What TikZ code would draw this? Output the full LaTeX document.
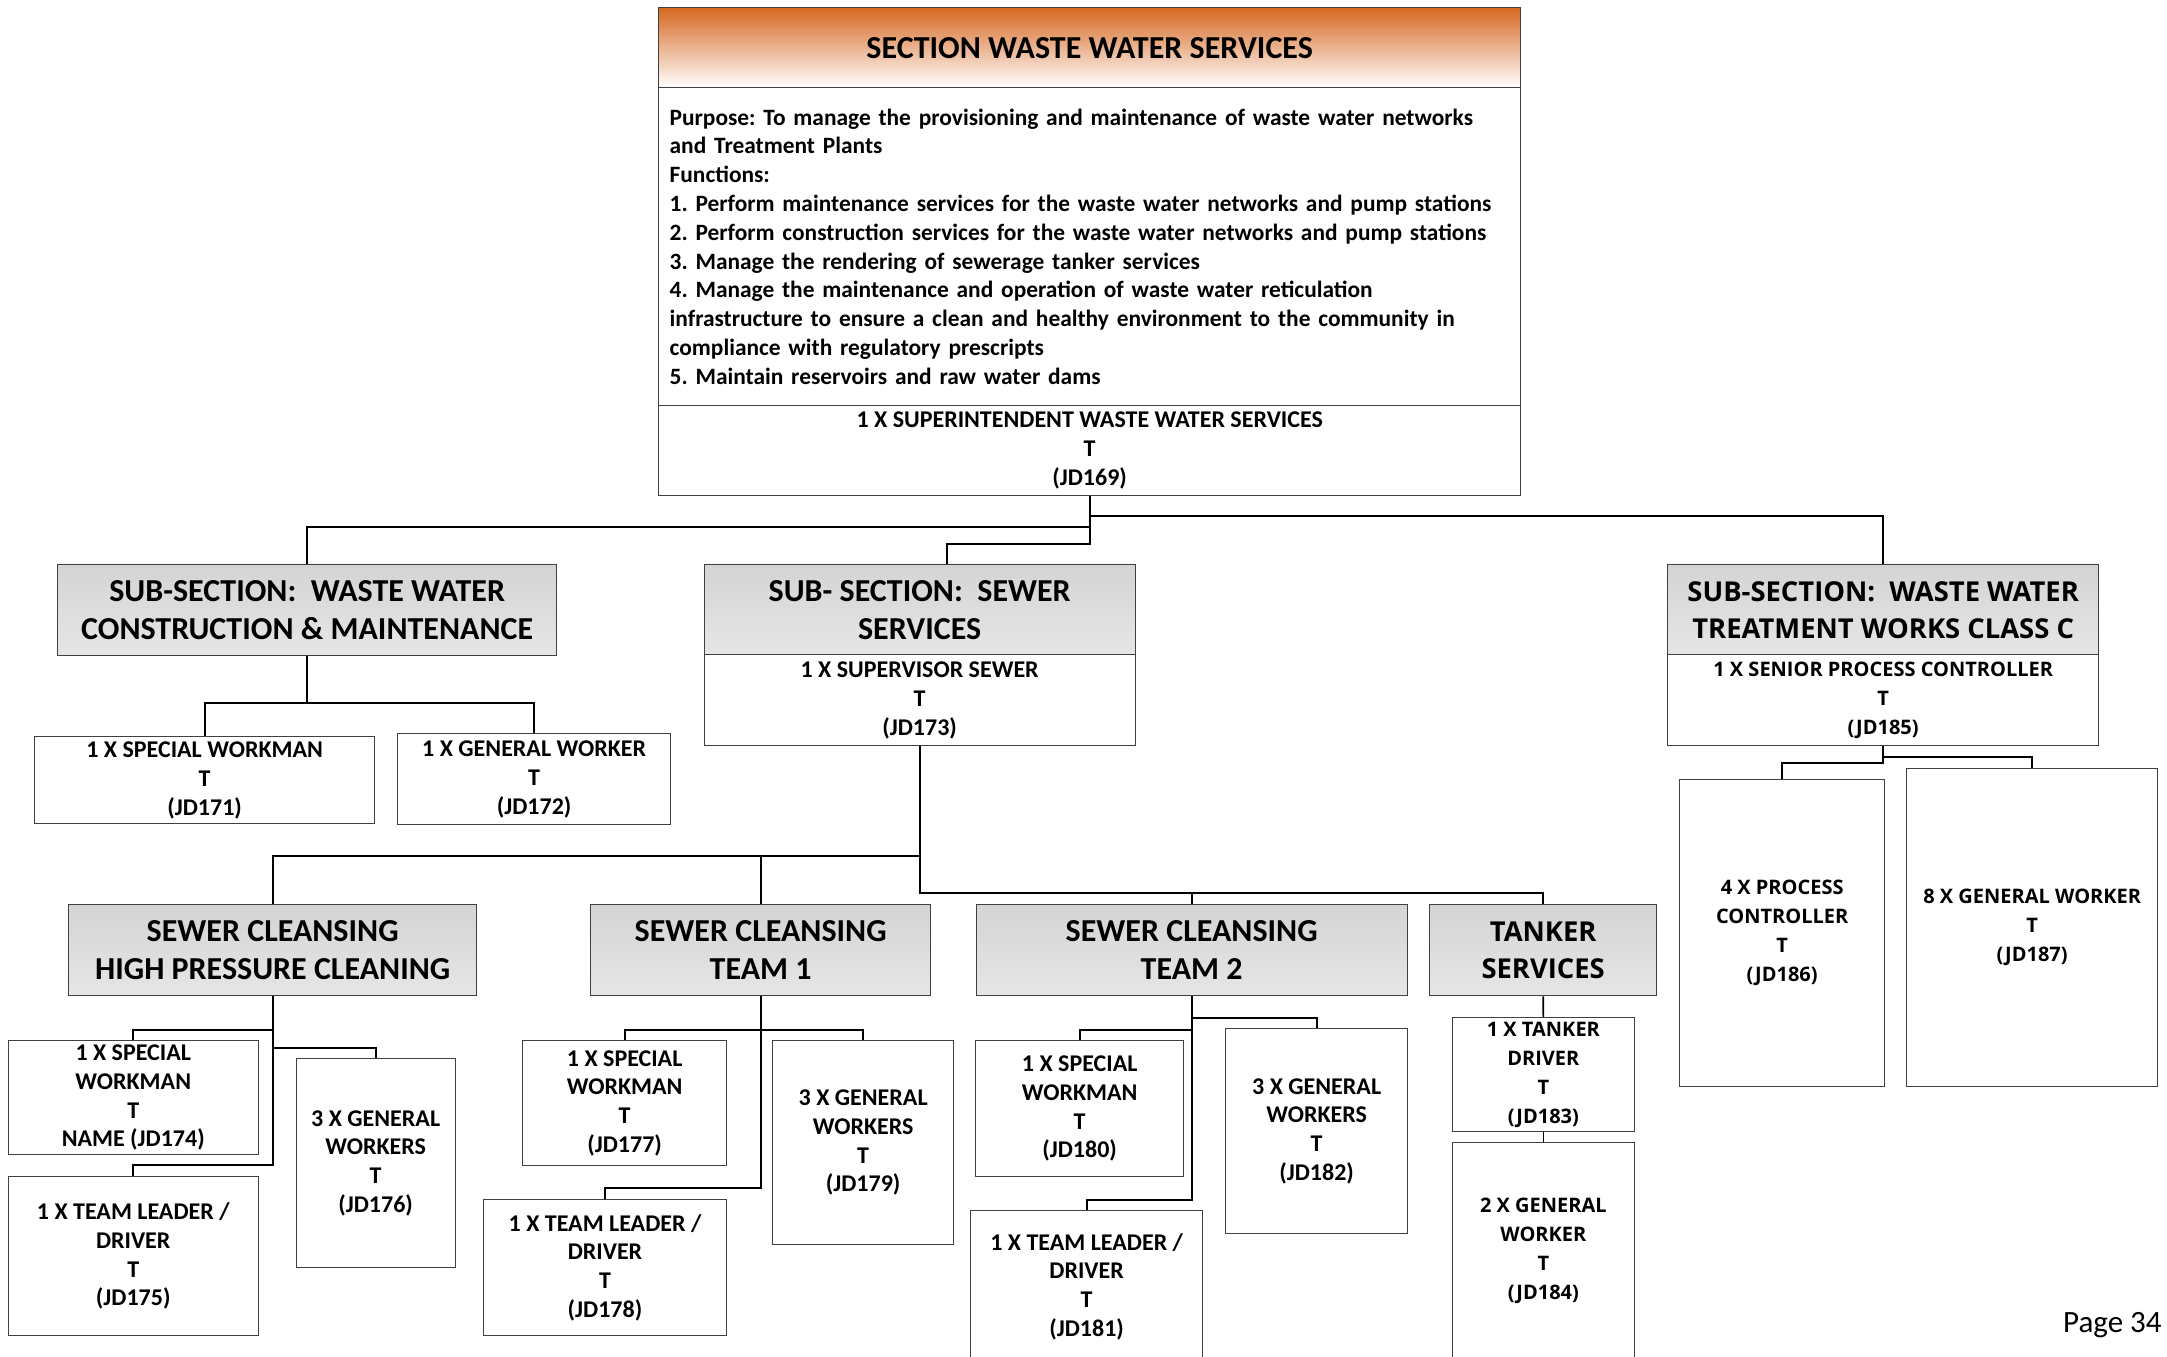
\documentclass[tikz,border=0pt]{standalone}
\usepackage{fontspec}
\setmainfont{Carlito}
\newfontfamily\wideface{Open Sans}
\usetikzlibrary{calc}
\definecolor{boxline}{RGB}{64,64,64}
\definecolor{headgray}{RGB}{212,212,212}
\definecolor{headgraylt}{RGB}{230,230,230}
\definecolor{titleorange}{RGB}{214,104,34}

\begin{document}
\begin{tikzpicture}[x=0.5pt, y=-0.5pt,
    box/.style={draw=boxline, line width=0.65pt, fill=white, align=center, inner sep=0pt, anchor=north west},
    headbox/.style={box, top color=headgray, bottom color=headgraylt, minimum height=45.5pt, font=\fontsize{16}{19}\selectfont\bfseries},
    jobbox/.style={box, font=\fontsize{12}{14.4}\selectfont\bfseries},
    widehead/.style={box, top color=headgray, bottom color=headgraylt, minimum height=45.5pt, font=\wideface\fontsize{13.7}{18.7}\selectfont\bfseries},
    widejob/.style={box, font=\wideface\fontsize{10}{14.5}\selectfont\bfseries},
    conn/.style={line width=0.85pt, black}]
    \useasboundingbox (0,0) rectangle (2167,1356);

    % section
    \node[box, minimum width=431pt, minimum height=40pt, top color=titleorange, middle color=titleorange!35, bottom color=white,
        font=\fontsize{16}{19}\selectfont\bfseries] (title) at (658,7) {SECTION WASTE WATER SERVICES};
    \node[box, minimum width=431pt, minimum height=159pt, text width=420pt, align=left,
        font=\fontsize{11.7}{14.4}\selectfont\bfseries\frenchspacing] (purpose) at (658,87)
        {Purpose: To manage the provisioning and maintenance of waste water networks\\
         and Treatment Plants\\
         Functions:\\
         1. Perform maintenance services for the waste water networks and pump stations\\
         2. Perform construction services for the waste water networks and pump stations\\
         3. Manage the rendering of sewerage tanker services\\
         4. Manage the maintenance and operation of waste water reticulation\\
         infrastructure to ensure a clean and healthy environment to the community in\\
         compliance with regulatory prescripts\\
         5. Maintain reservoirs and raw water dams};
    \node[jobbox, minimum width=431pt, minimum height=45pt] (super) at (658,405) {1 X SUPERINTENDENT WASTE WATER SERVICES\\T\\(JD169)};

    % sub-sections
    \node[headbox, minimum width=249.5pt] (wwcm) at (57,564) {SUB-SECTION:\ \ WASTE WATER\\CONSTRUCTION \& MAINTENANCE};
    \node[jobbox, minimum width=170pt, minimum height=43.5pt] (sw171) at (34,736) {1 X SPECIAL WORKMAN\\T\\(JD171)};
    \node[jobbox, minimum width=136.5pt, minimum height=45.5pt] (gw172) at (397,733) {1 X GENERAL WORKER\\T\\(JD172)};

    \node[headbox, minimum width=215.5pt] (sewerhd) at (703.5,564) {SUB- SECTION:\ \ SEWER\\SERVICES};
    \node[jobbox, minimum width=215.5pt, minimum height=45.5pt] (sewerjob) at (703.5,654) {1 X SUPERVISOR SEWER\\T\\(JD173)};

    \node[widehead, minimum width=215.5pt] (treathd) at (1667,564) {SUB-SECTION:\ \ WASTE WATER\\TREATMENT WORKS CLASS C};
    \node[widejob, minimum width=215.5pt, minimum height=45.5pt] (treatjob) at (1667,654) {1 X SENIOR PROCESS CONTROLLER\\T\\(JD185)};
    \node[widejob, minimum width=102.5pt, minimum height=153.5pt] (pc186) at (1679,779) {4 X PROCESS\\CONTROLLER\\T\\(JD186)};
    \node[widejob, minimum width=125.5pt, minimum height=159pt] (gw187) at (1906,768) {8 X GENERAL WORKER\\T\\(JD187)};

    % sewer teams
    \node[headbox, minimum width=204pt] (hp) at (68,904) {SEWER CLEANSING\\HIGH PRESSURE CLEANING};
    \node[headbox, minimum width=170pt] (team1) at (590,904) {SEWER CLEANSING\\TEAM 1};
    \node[headbox, minimum width=215.5pt] (team2) at (975.5,904) {SEWER CLEANSING\\TEAM 2};
    \node[widehead, minimum width=113.5pt] (tanker) at (1429,904) {TANKER\\SERVICES};

    \node[jobbox, minimum width=125pt, minimum height=57pt] (sw174) at (7.6,1040) {1 X SPECIAL\\WORKMAN\\T\\NAME (JD174)};
    \node[jobbox, minimum width=125pt, minimum height=79.5pt] (tl175) at (7.6,1176) {1 X TEAM LEADER /\\DRIVER\\T\\(JD175)};
    \node[jobbox, minimum width=79.5pt, minimum height=104.5pt] (gw176) at (295.5,1058) {3 X GENERAL\\WORKERS\\T\\(JD176)};

    \node[jobbox, minimum width=102pt, minimum height=62.5pt] (sw177) at (522,1040) {1 X SPECIAL\\WORKMAN\\T\\(JD177)};
    \node[jobbox, minimum width=121.75pt, minimum height=68pt] (tl178) at (482.6,1199) {1 X TEAM LEADER /\\DRIVER\\T\\(JD178)};
    \node[jobbox, minimum width=90.5pt, minimum height=102pt] (gw179) at (772,1040) {3 X GENERAL\\WORKERS\\T\\(JD179)};

    \node[jobbox, minimum width=104pt, minimum height=68pt] (sw180) at (975,1040) {1 X SPECIAL\\WORKMAN\\T\\(JD180)};
    \node[jobbox, minimum width=116pt, minimum height=76pt] (tl181) at (970,1210) {1 X TEAM LEADER /\\DRIVER\\T\\(JD181)};
    \node[jobbox, minimum width=91pt, minimum height=102.5pt] (gw182) at (1225,1028) {3 X GENERAL\\WORKERS\\T\\(JD182)};

    \node[widejob, minimum width=91pt, minimum height=57pt] (td183) at (1451.7,1017) {1 X TANKER\\DRIVER\\T\\(JD183)};
    \node[widejob, minimum width=91pt, minimum height=108pt] (gw184) at (1451.7,1142) {2 X GENERAL\\WORKER\\T\\(JD184)};

    \node[font=\fontsize{15.5}{18}\selectfont, anchor=east, inner sep=0pt] (pagenum) at (2162,1325) {Page 34};

    % connectors
    \coordinate (busR) at ($(super.south)+(0,20)$);
    \coordinate (busL) at ($(super.south)+(0,31)$);
    \coordinate (busM) at ($(super.south)+(0,48)$);
    \draw[conn] (super.south) -- (busM) -| ([xshift=13.5pt]sewerhd.north);
    \draw[conn] (busL) -| (wwcm.north);
    \draw[conn] (busR) -| (treathd.north);

    \coordinate (wwbus) at ($(wwcm.south)+(0,47)$);
    \draw[conn] (wwcm.south) -- (wwbus) -| (sw171.north);
    \draw[conn] (wwbus) -| (gw172.north);

    \coordinate (trbusL) at ($(treatjob.south)+(0,17)$);
    \coordinate (trbusR) at ($(treatjob.south)+(0,11)$);
    \draw[conn] (treatjob.south) -- (trbusL) -| (pc186.north);
    \draw[conn] (trbusR) -| (gw187.north);

    \coordinate (swbusL) at ($(sewerjob.south)+(0,110)$);
    \coordinate (swbusR) at ($(sewerjob.south)+(0,147)$);
    \draw[conn] (sewerjob.south) -- (swbusR) -| (tanker.north);
    \draw[conn] (swbusL) -| (hp.north);
    \draw[conn] (swbusL) -| (team1.north);
    \draw[conn] (swbusR) -| (team2.north);

    \coordinate (hpbusA) at ($(hp.south)+(0,34)$);
    \coordinate (hpbusB) at ($(hp.south)+(0,52)$);
    \coordinate (hpbusC) at ($(hp.south)+(0,169)$);
    \draw[conn] (hp.south) -- (hpbusC) -| (tl175.north);
    \draw[conn] (hpbusA) -| (sw174.north);
    \draw[conn] (hpbusB) -| (gw176.north);

    \coordinate (t1busA) at ($(team1.south)+(0,34)$);
    \coordinate (t1busB) at ($(team1.south)+(0,192)$);
    \draw[conn] (team1.south) -- (t1busB) -| (tl178.north);
    \draw[conn] (t1busA) -| (sw177.north);
    \draw[conn] (t1busA) -| (gw179.north);

    \coordinate (t2busA) at ($(team2.south)+(0,22)$);
    \coordinate (t2busB) at ($(team2.south)+(0,34)$);
    \coordinate (t2busC) at ($(team2.south)+(0,204)$);
    \draw[conn] (team2.south) -- (t2busC) -| (tl181.north);
    \draw[conn] (t2busB) -| (sw180.north);
    \draw[conn] (t2busA) -| (gw182.north);

    \draw[conn] (tanker.south) -- (td183.north);
    \draw[conn] (td183.south) -- (gw184.north);
\end{tikzpicture}
\end{document}
